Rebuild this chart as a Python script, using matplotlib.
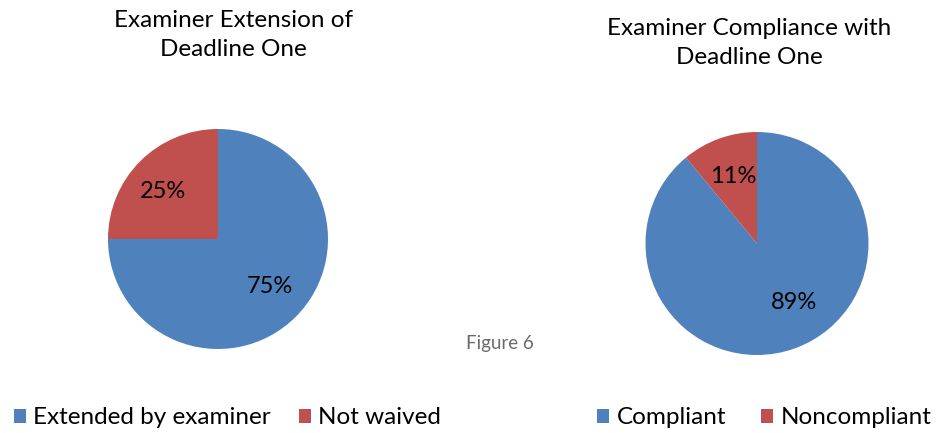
import matplotlib
matplotlib.use("Agg")
import matplotlib.pyplot as plt
from matplotlib.patches import Patch

plt.rcParams['font.family'] = ['Lato', 'DejaVu Sans']

# Data
left_title = "Examiner Extension of\nDeadline One"
left_labels = ["Extended by examiner", "Not waived"]
left_values = [75, 25]

right_title = "Examiner Compliance with\nDeadline One"
right_labels = ["Compliant", "Noncompliant"]
right_values = [89, 11]

colors = ["#4F81BD", "#C0504D"]
caption = "Figure 6"

W, H = 949, 433
fig = plt.figure(figsize=(W / 100, H / 100), dpi=100)
fig.patch.set_facecolor("white")


def px_axes(cx, cy, r):
    return fig.add_axes([(cx - r) / W, (H - cy - r) / H, 2 * r / W, 2 * r / H])


def draw(ax, values):
    wedges, texts, autotexts = ax.pie(
        values, colors=colors, startangle=90, counterclock=False,
        autopct=lambda p: f"{p:.0f}%", pctdistance=0.64,
        wedgeprops=dict(linewidth=0), textprops=dict(fontsize=17, color="black"))
    ax.set_xlim(-1, 1)
    ax.set_ylim(-1, 1)
    ax.set_aspect("equal")
    ax.axis("off")
    return wedges, autotexts


axL = px_axes(218, 239, 110)
_, atL = draw(axL, left_values)
atL[1].set_position((-0.5, 0.43))
atL[0].set_position((0.47, -0.43))
axR = px_axes(757, 243.5, 111.5)
_, atR = draw(axR, right_values)
atR[0].set_position((0.33, -0.53))

fig.text(233 / W, 1 - 35 / H, left_title, ha="center", va="center",
         fontsize=17.5, linespacing=1.42)
fig.text(749 / W, 1 - 43 / H, right_title, ha="center", va="center",
         fontsize=17.5, linespacing=1.42)

fig.text(500 / W, 1 - 343 / H, caption, ha="center", va="center",
         fontsize=13.5, color="#6b6b6b")

hL = [Patch(facecolor=c, edgecolor="none") for c in colors]
legL = fig.legend(hL, left_labels, loc="center left", ncol=2,
                  bbox_to_anchor=(14 / W, 1 - 418 / H), frameon=False,
                  fontsize=17.5, handlelength=0.5, handleheight=0.5,
                  handletextpad=0.3, columnspacing=1.15, borderaxespad=0,
                  borderpad=0)
legR = fig.legend(hL, right_labels, loc="center left", ncol=2,
                  bbox_to_anchor=(597 / W, 1 - 418 / H), frameon=False,
                  fontsize=17.5, handlelength=0.5, handleheight=0.5,
                  handletextpad=0.3, columnspacing=1.45, borderaxespad=0,
                  borderpad=0)

fig.savefig("out.png", dpi=100, facecolor="white")
